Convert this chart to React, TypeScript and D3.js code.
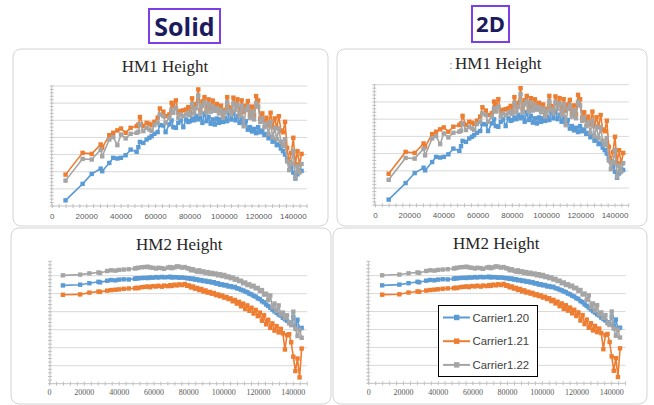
import React from 'react';
import * as d3 from 'd3';

// x positions shared by every series (same sample stations)
const xValues = [
  7700, 17600, 22900, 28100, 29000, 33100, 35400, 37800, 39900, 42600,
  45500, 49000, 50000, 50900, 52900, 54800, 56400, 57700, 59300, 61200,
  62500, 64500, 65800, 68000, 69300, 70300, 71800, 73200, 74600, 76100,
  77700, 79000,
  80000, 81200, 82400, 83600, 84800, 86000, 87200, 88400, 89600, 90800,
  92000, 93200, 94400, 95600, 96800, 98000, 99200, 100400, 101600, 102800,
  104000, 105200, 106400, 107600, 108800, 110000, 111200, 112400, 113600, 114800,
  116000, 117200, 118400, 119600, 120800, 122000, 123200, 124400, 125600, 126800,
  128000, 129200, 130400, 131600, 132800, 134000, 135200, 136400, 137600, 138800,
  140000, 141200, 142400, 143600, 144800
];

const hm1Blue = [
  0.33, 1.29, 1.87, 2.18, 2.03, 2.51, 2.81, 2.77, 2.81, 2.96,
  3.29, 3.16, 3.43, 3.74, 3.68, 3.88, 3.98, 4.07, 4.21, 4.31,
  4.72, 4.70, 4.31, 4.76, 4.99, 4.60, 4.56, 4.85, 4.99, 4.60,
  5.05, 4.90,
  4.95, 5.10, 5.00, 5.25, 5.05, 5.15, 4.85, 5.40, 4.95, 5.20,
  4.80, 5.05, 4.75, 5.10, 4.85, 5.05, 4.90, 5.15, 4.95, 5.40,
  5.05, 5.45, 5.00, 5.25, 4.85, 5.10, 4.80, 4.95, 4.45, 4.60,
  4.35, 4.50, 4.25, 4.60, 4.30, 4.40, 4.15, 4.20, 3.95, 4.05,
  3.75, 3.85, 3.55, 3.60, 3.35, 3.20, 3.00, 2.75, 2.55, 2.25,
  1.95, 1.60, 1.85, 2.10, 2.05
];
const hm1Orange = [
  1.83, 3.10, 3.04, 3.59, 3.39, 4.13, 4.27, 4.41, 4.52, 4.27,
  4.56, 4.66, 4.75, 5.19, 4.66, 4.85, 4.80, 4.72, 4.91, 5.15,
  5.69, 5.50, 5.24, 5.34, 6.02, 5.83, 6.16, 5.44, 5.54, 5.58,
  5.63, 5.77,
  5.45, 6.28, 5.70, 5.95, 6.80, 5.60, 6.10, 6.35, 5.65, 6.22,
  5.70, 6.15, 5.80, 5.95, 5.60, 5.85, 5.24, 5.60, 6.35, 5.75,
  5.50, 6.32, 5.90, 6.22, 5.45, 6.16, 5.50, 5.85, 6.12, 5.35,
  5.80, 5.30, 6.41, 6.16, 5.10, 5.40, 4.95, 5.15, 4.70, 5.44,
  4.60, 5.11, 4.55, 5.24, 4.40, 4.30, 4.91, 3.40, 2.55, 3.10,
  3.98, 2.45, 3.20, 2.42, 3.04
];
const hm1Gray = [
  1.48, 2.75, 2.71, 3.29, 2.90, 3.88, 4.02, 3.55, 4.17, 3.94,
  4.21, 4.27, 4.33, 4.76, 4.37, 4.56, 4.46, 4.37, 4.72, 4.85,
  5.34, 5.24, 4.85, 5.15, 5.63, 5.44, 5.73, 5.15, 5.34, 5.24,
  5.34, 5.44,
  5.30, 5.95, 5.40, 5.70, 6.45, 5.40, 5.85, 6.05, 5.45, 5.95,
  5.50, 5.80, 5.55, 5.70, 5.40, 5.60, 5.15, 5.45, 6.05, 5.55,
  5.35, 6.00, 5.60, 5.90, 5.25, 5.85, 4.65, 5.60, 5.80, 5.15,
  5.50, 5.05, 6.00, 5.80, 4.90, 5.10, 4.60, 4.80, 4.20, 4.90,
  4.00, 4.55, 3.90, 4.50, 3.75, 3.50, 3.90, 2.60, 2.10, 2.50,
  3.20, 1.65, 2.30, 1.95, 2.45
];

const hm2Blue = [
  5.46, 5.50, 5.58, 5.66, 5.63, 5.72, 5.76, 5.74, 5.78, 5.80,
  5.79, 5.83, 5.86, 5.85, 5.87, 5.88, 5.87, 5.90, 5.89, 5.92,
  5.90, 5.93, 5.91, 5.92, 5.94, 5.90, 5.92, 5.91, 5.89, 5.90,
  5.88, 5.86,
  5.86, 5.82, 5.84, 5.78, 5.80, 5.74, 5.76, 5.70, 5.72, 5.66,
  5.68, 5.62, 5.64, 5.56, 5.58, 5.50, 5.52, 5.46, 5.48, 5.40,
  5.42, 5.36, 5.38, 5.30, 5.28, 5.22, 5.18, 5.12, 5.08, 5.00,
  4.96, 4.88, 4.84, 4.74, 4.70, 4.58, 4.52, 4.40, 4.32, 4.22,
  4.12, 4.02, 3.94, 3.84, 3.78, 3.66, 3.58, 3.50, 3.40, 3.30,
  3.72, 3.20, 3.55, 3.05, 3.10
];
const hm2Orange = [
  4.94, 4.96, 5.06, 5.12, 5.10, 5.17, 5.20, 5.22, 5.24, 5.27,
  5.29, 5.30, 5.33, 5.31, 5.36, 5.38, 5.40, 5.36, 5.42, 5.40,
  5.44, 5.39, 5.45, 5.42, 5.47, 5.43, 5.50, 5.46, 5.52, 5.48,
  5.54, 5.44,
  5.46, 5.35, 5.40, 5.28, 5.32, 5.20, 5.26, 5.12, 5.18, 5.06,
  5.10, 5.00, 5.04, 4.92, 4.96, 4.86, 4.90, 4.78, 4.82, 4.70,
  4.74, 4.58, 4.65, 4.45, 4.55, 4.30, 4.45, 4.15, 4.35, 4.05,
  4.22, 3.90, 4.10, 3.75, 3.95, 3.50, 3.80, 3.30, 3.55, 3.10,
  3.35, 2.95, 3.20, 2.85, 3.05, 2.80, 1.90, 2.70, 2.75, 2.30,
  1.50, 0.70, 1.40, 0.35, 1.95
];
const hm2Gray = [
  6.02, 6.06, 6.13, 6.18, 6.15, 6.26, 6.30, 6.28, 6.32, 6.34,
  6.36, 6.40, 6.42, 6.44, 6.47, 6.48, 6.50, 6.46, 6.44, 6.40,
  6.44, 6.42, 6.38, 6.45, 6.48, 6.42, 6.46, 6.52, 6.50, 6.45,
  6.48, 6.42,
  6.40, 6.30, 6.36, 6.28, 6.22, 6.30, 6.20, 6.24, 6.14, 6.20,
  6.10, 6.16, 6.08, 6.12, 6.02, 6.08, 5.98, 6.04, 5.92, 5.96,
  5.86, 5.90, 5.78, 5.82, 5.70, 5.72, 5.58, 5.62, 5.48, 5.52,
  5.40, 5.44, 5.30, 5.32, 5.15, 5.20, 4.95, 5.00, 4.65, 4.90,
  4.25, 4.45, 4.05, 4.35, 3.85, 3.95, 3.65, 3.80, 3.35, 3.25,
  4.00, 3.05, 2.65, 3.00, 2.55
];

const seriesNames = ['Carrier1.20', 'Carrier1.21', 'Carrier1.22'];
const seriesColors = ['#5B9BD5', '#ED7D31', '#A5A5A5'];
const xTickLabels = [0, 20000, 40000, 60000, 80000, 100000, 120000, 140000];

const X_MAX = 148000;

type PanelProps = {
  frame: { x: number; y: number; w: number; h: number };
  axisX: number;
  zeroX: number;
  x140: number;
  top: number;
  bottom: number;
  yMax: number;
  gridMax: number;
  title: string;
  titleX: number;
  titleY: number;
  labelFont: string;
  labelY: number;
  series: number[][];
  colon?: boolean;
  legend?: boolean;
};

function Panel(p: PanelProps) {
  const x = d3.scaleLinear().domain([0, 140000]).range([p.zeroX, p.x140]);
  const y = d3.scaleLinear().domain([0, p.yMax]).range([p.bottom, p.top]);
  const right = x(X_MAX);

  const line = d3.line<number>()
    .x((d, i) => x(xValues[i]))
    .y(d => y(d));

  const grid = d3.range(1, p.gridMax + 1);
  const yMinor = d3.range(0, p.yMax + 0.001, 0.2);
  const xMinor = d3.range(0, X_MAX + 1, 4000);

  return (
    <g>
      <rect x={p.frame.x} y={p.frame.y} width={p.frame.w} height={p.frame.h}
        rx={8} fill="#fff" stroke="#d4d4d4" strokeWidth={1} />
      {p.colon && (
        <text x={p.titleX - 49} y={p.titleY} fontFamily="Liberation Serif" fontSize={12} fill="#999">:</text>
      )}
      <text x={p.titleX} y={p.titleY} textAnchor="middle" fontFamily="Liberation Serif"
        fontSize={17} fill="#262626">{p.title}</text>

      {grid.map(g => (
        <line key={g} x1={p.axisX} x2={right} y1={y(g)} y2={y(g)} stroke="#d9d9d9" strokeWidth={1} />
      ))}

      <line x1={p.axisX} x2={p.axisX} y1={y(p.yMax)} y2={p.bottom} stroke="#c0c0c0" />
      {yMinor.map((v, i) => (
        <line key={i} x1={p.axisX - 2} x2={p.axisX + 2} y1={y(v)} y2={y(v)} stroke="#c0c0c0" />
      ))}
      <line x1={p.axisX} x2={right} y1={p.bottom} y2={p.bottom} stroke="#c0c0c0" />
      {xMinor.map((v, i) => (
        <line key={i} x1={x(v)} x2={x(v)} y1={p.bottom - 2} y2={p.bottom + 2} stroke="#c0c0c0" />
      ))}
      {xTickLabels.map(t => (
        <text key={t} x={x(t)} y={p.labelY} textAnchor="middle" fontFamily={p.labelFont}
          fontSize={8} fill="#595959">{t}</text>
      ))}

      {p.series.map((s, si) => (
        <g key={si}>
          <path d={line(s) || ''} fill="none" stroke={seriesColors[si]} strokeWidth={1.6} />
          {s.map((v, i) => (
            <rect key={i} x={x(xValues[i]) - 2.2} y={y(v) - 2.2} width={4.4} height={4.4} fill={seriesColors[si]} />
          ))}
        </g>
      ))}

      {p.legend && (
        <g>
          <rect x={438.5} y={305.5} width={99} height={71} fill="#fff" stroke="#000" strokeWidth={1} />
          {seriesNames.map((n, i) => {
            const ly = 317.5 + i * 23.7;
            return (
              <g key={n}>
                <line x1={443} x2={470} y1={ly} y2={ly} stroke={seriesColors[i]} strokeWidth={2} />
                <rect x={454} y={ly - 2.7} width={5.4} height={5.4} fill={seriesColors[i]} />
                <text x={472.5} y={ly + 4} fontFamily="Liberation Sans" fontSize={11.3} fill="#404040">{n}</text>
              </g>
            );
          })}
        </g>
      )}
    </g>
  );
}

export default function App() {
  const hm1 = [hm1Blue, hm1Orange, hm1Gray];
  const hm2 = [hm2Blue, hm2Orange, hm2Gray];

  return (
    <svg width={654} height={405} style={{ position: 'absolute', left: 0, top: 0, background: '#fff' }}>
      <rect x={149} y={9} width={71} height={34} fill="#fff" stroke="#7B3FE4" strokeWidth={2} />
      <text x={184.5} y={35.5} textAnchor="middle" fontFamily="Open Sans" fontWeight="bold"
        fontSize={25} fill="#1B1B5E">Solid</text>
      <rect x={472} y={6} width={37} height={36} fill="#fff" stroke="#7B3FE4" strokeWidth={2} />
      <text x={490.5} y={31.5} textAnchor="middle" fontFamily="Open Sans" fontWeight="bold"
        fontSize={22} fill="#1B1B5E">2D</text>

      <Panel frame={{ x: 13, y: 49, w: 315, h: 177 }} axisX={51.7} zeroX={52.3} x140={293.3}
        top={86} bottom={206} yMax={7} gridMax={7} title="HM1 Height" titleX={165} titleY={72}
        labelFont="Liberation Sans" labelY={218.5} series={hm1} />
      <Panel frame={{ x: 337, y: 49, w: 310, h: 177 }} axisX={374.3} zeroX={375.5} x140={615}
        top={84.7} bottom={205.3} yMax={7} gridMax={7} title="HM1 Height" titleX={498.3} titleY={68.7}
        labelFont="Liberation Sans" labelY={218} series={hm1} colon />
      <Panel frame={{ x: 11, y: 228, w: 320, h: 176 }} axisX={50} zeroX={49.5} x140={293.3}
        top={261.3} bottom={383.7} yMax={6.8} gridMax={6} title="HM2 Height" titleX={179.3} titleY={249.7}
        labelFont="Liberation Serif" labelY={395} series={hm2} />
      <Panel frame={{ x: 333, y: 228, w: 314, h: 176 }} axisX={368.3} zeroX={368.8} x140={611.7}
        top={261.3} bottom={383.3} yMax={6.8} gridMax={6} title="HM2 Height" titleX={496.3} titleY={248.7}
        labelFont="Liberation Serif" labelY={394.6} series={hm2} legend />
</svg>
  );
}
